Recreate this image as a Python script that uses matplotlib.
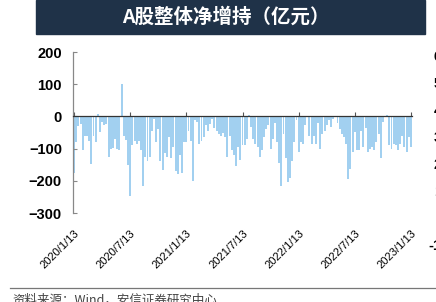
import numpy as np
import matplotlib
matplotlib.use("Agg")
import matplotlib.pyplot as plt
from matplotlib.patches import Rectangle

plt.rcParams['font.family'] = ['Liberation Sans', 'Noto Sans CJK SC', 'DejaVu Sans']

# 周度净增持（亿元），2020/1/13 起
valores = [
    -175, -80, -30, -25, -105, -60, -62, -75, -148, -60, -80, 8, -48, -18, -28, -25,
    -125, -100, -98, -70, -102, -103, 100, -60, -72,
    -150, -248, -90, -75, -85, -75, -105, -215, -125, -140, -125, -45, -8, -80, -40,
    -140, -165, -115, -125, -65, -130, -95, -170, -180, -120, -175, -80,
    -80, -45, -75, -200, -12, -18, -85, -75, -65, -28, -45, -25, -8, -35, -45, -55,
    -60, -50, -65, -125, -60, -105, -120, -155, -95, -135, -90,
    -90, -70, 5, -32, -70, -85, -95, -125, -105, -65, -40, -28, -100, -70, -20, -80,
    -145, -215, -55, -130, -205, -190, -140, -80, -12, -110, -80,
    -85, -28, -2, -60, -85, -60, -85, -22, -100, -55, -45, -28, -12, -32, -8, -2,
    -22, -38, -55, -65, -85, -195, -163, -110, -48, -105, -105,
    -45, -95, -35, -110, -100, -95, -105, -80, -55, -130, -18, -2, 5, -90, -100, -85,
    -90, -105, -85, -60, -95, -110, -65, -95,
]
etiquetas_x = ["2020/1/13", "2020/7/13", "2021/1/13", "2021/7/13",
               "2022/1/13", "2022/7/13", "2023/1/13"]
pos_etiquetas = [0, 26, 52, 78, 104, 130, 156]
ticks_y = [-300, -200, -100, 0, 100, 200]
# etiquetas del eje derecho (recortado en la imagen original)
etiquetas_der = ["60", "50", "40", "30", "20", "10", "0", "-10"]

fig = plt.figure(figsize=(4.36, 3.02), dpi=100)

# Banda del título
fig.patches.append(Rectangle((36 / 436, 1 - 34 / 302), (425 - 36) / 436, 34 / 302,
                             transform=fig.transFigure, color="#1f3248", zorder=0))
fig.text(226 / 436, 1 - 17 / 302, "A股整体净增持（亿元）", color="white",
         fontsize=14, fontweight="bold", ha="center", va="center",
         family=['Noto Sans CJK SC', 'DejaVu Sans'])

ax = fig.add_axes([73 / 436, 1 - 213 / 302, (412 - 73) / 436, (213 - 52) / 302])
x = np.arange(len(valores))
ax.bar(x, valores, width=0.9, color="#a2d0f0", linewidth=0)

ax.set_xlim(-0.5, len(valores) - 0.5)
ax.set_ylim(-300, 200)
ax.set_yticks(ticks_y)
ax.set_yticklabels([f"\u2212{abs(v)}" if v < 0 else str(v) for v in ticks_y],
                   fontsize=10.5, fontweight="bold")
ax.tick_params(axis="y", direction="in", length=3, color="#888888", pad=8)

# eje x: línea en cero con marcas hacia arriba, etiquetas abajo
ax.spines["right"].set_visible(False)
ax.spines["bottom"].set_visible(False)
ax.spines["top"].set_position(("data", 0))
ax.spines["top"].set_color("#333333")
ax.spines["top"].set_linewidth(0.9)
ax.spines["left"].set_color("#888888")
ax.spines["left"].set_linewidth(0.9)
ax.set_xticks(pos_etiquetas)
ax.set_xticklabels(etiquetas_x, rotation=45, ha="right", rotation_mode="anchor",
                   fontsize=8)
ax.tick_params(axis="x", top=True, bottom=True, direction="out", length=3,
               color="#555555", pad=8)
for t in ax.xaxis.get_major_ticks():
    t.tick1line.set_visible(False)

# etiquetas del eje derecho, cortadas por el borde
for i, lab in enumerate(etiquetas_der):
    fig.text(450 / 436, 1 - (57 + 27 * i) / 302, lab, ha="right", va="center",
             fontsize=10.5, fontweight="bold")

# línea inferior y fuente
fig.add_artist(plt.Line2D([10 / 436, 1], [1 - 288 / 302] * 2, color="#777777",
                          linewidth=0.9, transform=fig.transFigure))
fig.text(12 / 436, 1 - 300 / 302, "资料来源：Wind，安信证券研究中心", ha="left", va="center",
         fontsize=9, color="#444444", style="italic",
         family=['Noto Sans CJK SC', 'DejaVu Sans'])

fig.savefig("out.png", dpi=100)
